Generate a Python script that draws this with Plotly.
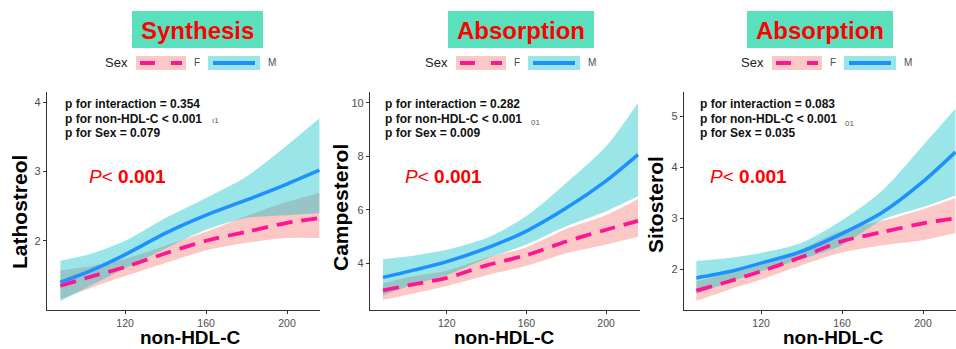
import plotly.graph_objects as go

W, H = 956, 349

# ---------------- data ----------------
x_hdl = [88, 104, 120, 140, 160, 180, 200, 216]

panel_titles = ["Synthesis", "Absorption", "Absorption"]
y_titles = ["Lathostreol", "Campesterol", "Sitosterol"]
x_title = "non-HDL-C"
p_interaction = ["0.354", "0.282", "0.083"]
p_sex = ["0.079", "0.009", "0.035"]

# Panel 1 : Lathostreol
lath_M = [1.40, 1.58, 1.80, 2.11, 2.37, 2.59, 2.82, 3.02]
lath_M_hi = [1.71, 1.82, 2.00, 2.33, 2.62, 2.93, 3.38, 3.77]
lath_M_lo = [1.13, 1.37, 1.60, 1.89, 2.16, 2.33, 2.37, 2.40]
lath_F = [1.35, 1.49, 1.62, 1.82, 2.00, 2.13, 2.26, 2.33]
lath_F_hi = [1.57, 1.64, 1.74, 1.93, 2.13, 2.36, 2.56, 2.69]
lath_F_lo = [1.16, 1.33, 1.49, 1.68, 1.86, 1.97, 2.04, 2.04]

# Panel 2 : Campesterol
camp_M = [3.47, 3.75, 4.06, 4.56, 5.20, 6.06, 7.08, 8.06]
camp_M_hi = [4.15, 4.29, 4.50, 4.94, 5.76, 7.00, 8.37, 10.0]
camp_M_lo = [2.80, 3.22, 3.56, 4.17, 4.70, 5.38, 5.94, 6.50]
camp_F = [2.98, 3.22, 3.45, 3.92, 4.30, 4.81, 5.25, 5.58]
camp_F_hi = [3.25, 3.52, 3.72, 4.20, 4.60, 5.28, 5.80, 6.40]
camp_F_lo = [2.63, 2.88, 3.15, 3.55, 3.90, 4.37, 4.70, 4.99]

# Panel 3 : Sitosterol
sito_M = [1.83, 1.95, 2.12, 2.35, 2.70, 3.12, 3.72, 4.30]
sito_M_hi = [2.16, 2.22, 2.32, 2.52, 2.96, 3.55, 4.43, 5.15]
sito_M_lo = [1.52, 1.74, 1.96, 2.20, 2.47, 2.97, 3.22, 3.45]
sito_F = [1.58, 1.76, 1.96, 2.24, 2.55, 2.73, 2.90, 3.00]
sito_F_hi = [1.76, 1.92, 2.08, 2.40, 2.76, 2.95, 3.18, 3.40]
sito_F_lo = [1.38, 1.60, 1.80, 2.08, 2.33, 2.47, 2.57, 2.71]

y_tickvals = [[2, 3, 4], [4, 6, 8, 10], [2, 3, 4, 5]]
x_tickvals = [120, 160, 200]
y_ranges = [[1.0, 4.15], [2.25, 10.4], [1.2, 5.48]]
x_ranges = [[81.4, 216.3], [81.5, 217.0], [81.9, 216.3]]

panels = [
    (lath_M, lath_M_lo, lath_M_hi, lath_F, lath_F_lo, lath_F_hi),
    (camp_M, camp_M_lo, camp_M_hi, camp_F, camp_F_lo, camp_F_hi),
    (sito_M, sito_M_lo, sito_M_hi, sito_F, sito_F_lo, sito_F_hi),
]

# ---------------- style ----------------
FONT = "Liberation Sans, Arial, sans-serif"
COL_M_LINE = "#1E90FF"
COL_F_LINE = "#FF1493"
COL_M_BAND = "rgba(0,191,196,0.4)"
COL_F_BAND = "rgba(248,118,109,0.4)"
KEY_M = "#99E5E7"
KEY_F = "#FCC8C5"
TITLE_BG = "#5BE0BE"

ax_left = [47, 370, 684]
ax_right = [320, 640, 956]
ax_top, ax_bottom = 92, 310
offsets = [0, 320, 636]


def px(x):
    return x / W


def py(y):
    return 1 - y / H


fig = go.Figure()

for i, (M, Mlo, Mhi, F, Flo, Fhi) in enumerate(panels):
    xa = "x" if i == 0 else f"x{i+1}"
    ya = "y" if i == 0 else f"y{i+1}"
    # ribbons: F first, then M
    for lo, hi, col in [(Flo, Fhi, COL_F_BAND), (Mlo, Mhi, COL_M_BAND)]:
        fig.add_trace(go.Scatter(x=x_hdl, y=lo, mode="lines", line=dict(width=0, shape="spline", smoothing=0.8),
                                 xaxis=xa, yaxis=ya, showlegend=False, hoverinfo="skip"))
        fig.add_trace(go.Scatter(x=x_hdl, y=hi, mode="lines", line=dict(width=0, shape="spline", smoothing=0.8),
                                 fill="tonexty", fillcolor=col,
                                 xaxis=xa, yaxis=ya, showlegend=False, hoverinfo="skip"))
    fig.add_trace(go.Scatter(x=x_hdl, y=F, mode="lines",
                             line=dict(color=COL_F_LINE, width=3.8, dash="16px,9px", shape="spline", smoothing=0.8),
                             xaxis=xa, yaxis=ya, showlegend=False, hoverinfo="skip"))
    fig.add_trace(go.Scatter(x=x_hdl, y=M, mode="lines",
                             line=dict(color=COL_M_LINE, width=3.5, shape="spline", smoothing=0.8),
                             xaxis=xa, yaxis=ya, showlegend=False, hoverinfo="skip"))

layout = dict(
    width=W, height=H, autosize=False,
    margin=dict(l=0, r=0, t=0, b=0),
    paper_bgcolor="white", plot_bgcolor="white",
    font=dict(family=FONT),
    showlegend=False,
)

for i in range(3):
    xk = "xaxis" if i == 0 else f"xaxis{i+1}"
    yk = "yaxis" if i == 0 else f"yaxis{i+1}"
    yref = "y" if i == 0 else f"y{i+1}"
    xref = "x" if i == 0 else f"x{i+1}"
    layout[xk] = dict(
        domain=[px(ax_left[i]), px(ax_right[i])], range=x_ranges[i], anchor=yref,
        showline=True, linecolor="#333333", linewidth=1.3, showgrid=False, zeroline=False,
        ticks="outside", ticklen=3, tickcolor="#333333", tickwidth=1,
        tickvals=x_tickvals, tickfont=dict(size=10.5, color="#4D4D4D", family=FONT),
        fixedrange=True,
    )
    layout[yk] = dict(
        domain=[py(ax_bottom), py(ax_top)], range=y_ranges[i], anchor=xref,
        showline=True, linecolor="#333333", linewidth=1.3, showgrid=False, zeroline=False,
        ticks="outside", ticklen=3, tickcolor="#333333", tickwidth=1,
        tickvals=y_tickvals[i], tickfont=dict(size=11, color="#4D4D4D", family=FONT),
        fixedrange=True,
    )

fig.update_layout(**layout)

shapes = []
annotations = []

title_boxes = [(132, 263), (448, 594), (747, 893)]
y_title_pos = [(19, 212), (340, 208), (655, 205)]
x_title_cx = [190, 504, 833]
p_left = [63, 383, 698]
pval_left = [87, 403, 708]
stray = [("ı1", 215, 121), ("01", 535, 123), ("01", 849, 124)]

for i in range(3):
    o = offsets[i]
    # title box
    x0, x1 = title_boxes[i]
    shapes.append(dict(type="rect", xref="paper", yref="paper", x0=px(x0), x1=px(x1),
                       y0=py(48), y1=py(11), fillcolor=TITLE_BG, line=dict(width=0), layer="above"))
    annotations.append(dict(text=f"<b>{panel_titles[i]}</b>", x=px((x0 + x1) / 2), y=py(30),
                            xref="paper", yref="paper", showarrow=False, xanchor="center", yanchor="middle",
                            font=dict(size=24, color="#FF0000", family=FONT)))
    # legend
    annotations.append(dict(text="Sex", x=px(o + 116), y=py(63), xref="paper", yref="paper",
                            showarrow=False, xanchor="center", yanchor="middle",
                            font=dict(size=13, color="#222222", family=FONT)))
    shapes.append(dict(type="rect", xref="paper", yref="paper", x0=px(o + 136), x1=px(o + 186),
                       y0=py(70), y1=py(56), fillcolor=KEY_F, line=dict(width=0)))
    for a, b in [(o + 140, o + 155), (o + 171, o + 182)]:
        shapes.append(dict(type="line", xref="paper", yref="paper", x0=px(a), x1=px(b),
                           y0=py(63), y1=py(63), line=dict(color=COL_F_LINE, width=4)))
    annotations.append(dict(text="F", x=px(o + 197), y=py(63), xref="paper", yref="paper",
                            showarrow=False, xanchor="center", yanchor="middle",
                            font=dict(size=10, color="#4D4D4D", family=FONT)))
    shapes.append(dict(type="rect", xref="paper", yref="paper", x0=px(o + 208), x1=px(o + 260),
                       y0=py(70), y1=py(56), fillcolor=KEY_M, line=dict(width=0)))
    shapes.append(dict(type="line", xref="paper", yref="paper", x0=px(o + 213), x1=px(o + 255),
                       y0=py(63), y1=py(63), line=dict(color=COL_M_LINE, width=4)))
    annotations.append(dict(text="M", x=px(o + 272), y=py(63), xref="paper", yref="paper",
                            showarrow=False, xanchor="center", yanchor="middle",
                            font=dict(size=10, color="#4D4D4D", family=FONT)))
    # p-value texts
    lines = [f"<b>p for interaction = {p_interaction[i]}</b>",
             "<b>p for non-HDL-C &lt; 0.001</b>",
             f"<b>p for Sex = {p_sex[i]}</b>"]
    for k, t in enumerate(lines):
        annotations.append(dict(text=t, x=px(p_left[i]), y=py(104 + 14.6 * k), xref="paper", yref="paper",
                                showarrow=False, xanchor="left", yanchor="middle",
                                font=dict(size=12, color="#111111", family=FONT)))
    s, sx, sy = stray[i]
    annotations.append(dict(text=s, x=px(sx), y=py(sy), xref="paper", yref="paper",
                            showarrow=False, xanchor="center", yanchor="middle",
                            font=dict(size=8, color="#555555", family=FONT)))
    annotations.append(dict(text="<i>P</i>&lt; <b>0.001</b>", x=px(pval_left[i]), y=py(176),
                            xref="paper", yref="paper", showarrow=False, xanchor="left", yanchor="middle",
                            font=dict(size=19, color="#FF0000", family=FONT)))
    # axis titles
    yx, yy = y_title_pos[i]
    annotations.append(dict(text=f"<b>{y_titles[i]}</b>", x=px(yx), y=py(yy), xref="paper", yref="paper",
                            showarrow=False, xanchor="center", yanchor="middle", textangle=-90,
                            font=dict(size=21, color="#000000", family=FONT)))
    annotations.append(dict(text=f"<b>{x_title}</b>", x=px(x_title_cx[i]), y=py(337.5), xref="paper",
                            yref="paper", showarrow=False, xanchor="center", yanchor="middle",
                            font=dict(size=19, color="#000000", family=FONT)))

fig.update_layout(shapes=shapes, annotations=annotations)
fig.write_html("out.html", config={"displayModeBar": False})
